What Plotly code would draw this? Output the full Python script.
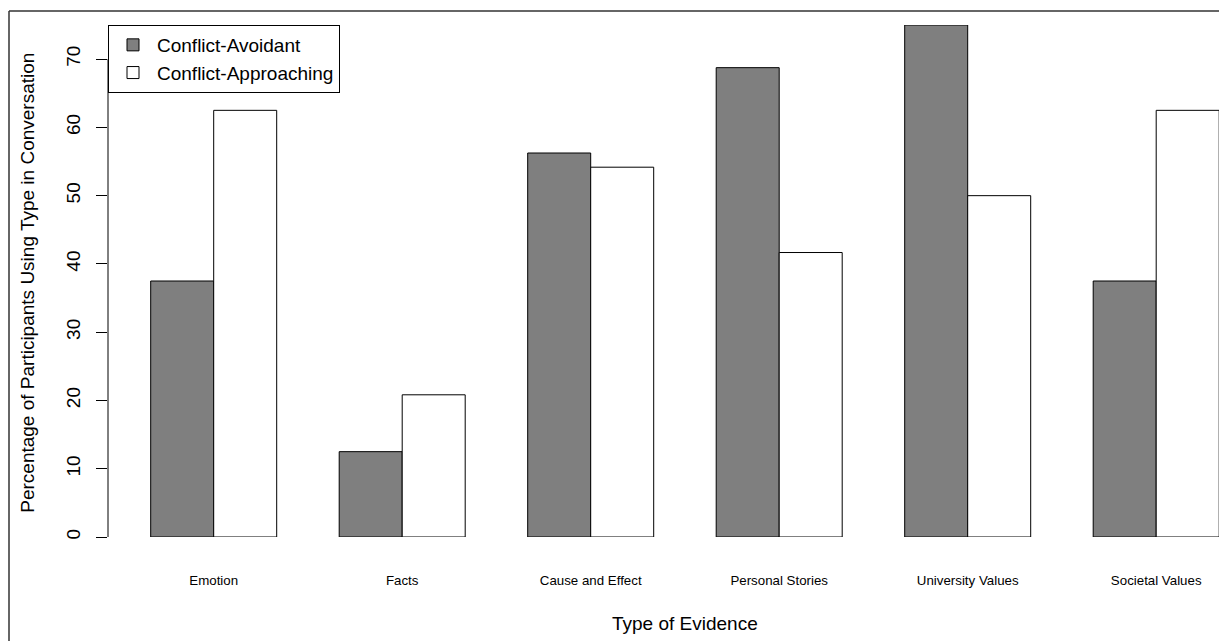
import plotly.graph_objects as go

categories = ["Emotion", "Facts", "Cause and Effect", "Personal Stories",
              "University Values", "Societal Values"]
avoidant = [37.5, 12.5, 56.25, 68.75, 75.0, 37.5]
approaching = [62.5, 20.83, 54.17, 41.67, 50.0, 62.5]
series_names = ["Conflict-Avoidant", "Conflict-Approaching"]
y_ticks = [0, 10, 20, 30, 40, 50, 60, 70]

FONT = "Liberation Sans, Arial, Helvetica, sans-serif"
OFF = 8  # default body margin of the page
W, H = 1227 - OFF, 641 - OFF
# plot area in reference-image pixels
PL, PT, PB = 108, 25, 537.5
ML = PL - OFF
MT = PT - OFF
MB = H - (PB - OFF)
MR = 0
PW = W - ML - MR
PH = H - MT - MB

fig = go.Figure()
fig.add_trace(go.Bar(x=categories, y=avoidant, name=series_names[0],
                     marker=dict(color="#7F7F7F", line=dict(color="black", width=1))))
fig.add_trace(go.Bar(x=categories, y=approaching, name=series_names[1],
                     marker=dict(color="white", line=dict(color="black", width=1))))

# category index positions: center of first at 213.7px, period 188.5px (ref pixels)
x0 = (PL - 213.7) / 188.5
x1 = (PL + PW - 213.7) / 188.5

def px_to_paper_x(px):
    return (px - PL) / PW

def px_to_paper_y(py):
    return (PB - py) / PH

fig.update_layout(
    width=W, height=H,
    margin=dict(l=ML, r=MR, t=MT, b=MB, autoexpand=False),
    paper_bgcolor="white", plot_bgcolor="white",
    barmode="group", bargap=0.3316, bargroupgap=0,
    font=dict(family=FONT, size=19, color="black"),
    showlegend=True,
    legend=dict(x=0, y=1, xanchor="left", yanchor="top",
                bgcolor="white", bordercolor="black", borderwidth=1,
                font=dict(size=19), traceorder="normal", itemwidth=38),
    xaxis=dict(type="category", range=[x0, x1], showline=False, showgrid=False,
               zeroline=False, ticks="", tickfont=dict(size=13.3),
               ticklabelstandoff=34),
    yaxis=dict(range=[0, 75], showline=False, showgrid=False, zeroline=False,
               tickvals=y_ticks, ticktext=[str(v) for v in y_ticks],
               ticks="outside", ticklen=11, tickwidth=1, tickcolor="black",
               tickangle=-90, tickfont=dict(size=19), ticklabelstandoff=8),
)

# y axis line from first to last tick (R style)
fig.add_shape(type="line", xref="paper", yref="y", x0=0, x1=0,
              y0=y_ticks[0], y1=y_ticks[-1], line=dict(color="black", width=1))

# outer figure box (partially cropped); left edge sits at the page edge
bx = px_to_paper_x(OFF + 1)
by = px_to_paper_y(11)
fig.add_shape(type="line", xref="paper", yref="paper", x0=bx, x1=bx,
              y0=-0.3, y1=by, line=dict(color="#333333", width=1.5))
fig.add_shape(type="line", xref="paper", yref="paper", x0=bx, x1=1.1,
              y0=by, y1=by, line=dict(color="#333333", width=1.5))

# axis titles
fig.add_annotation(text="Type of Evidence", xref="paper", yref="paper",
                   x=px_to_paper_x(685), y=px_to_paper_y(624),
                   xanchor="center", yanchor="middle", showarrow=False,
                   font=dict(size=19))
fig.add_annotation(text="Percentage of Participants Using Type in Conversation",
                   xref="paper", yref="paper",
                   x=px_to_paper_x(28), y=px_to_paper_y(283),
                   xanchor="center", yanchor="middle", showarrow=False,
                   textangle=-90, font=dict(size=19))

fig.write_html("out.html")
